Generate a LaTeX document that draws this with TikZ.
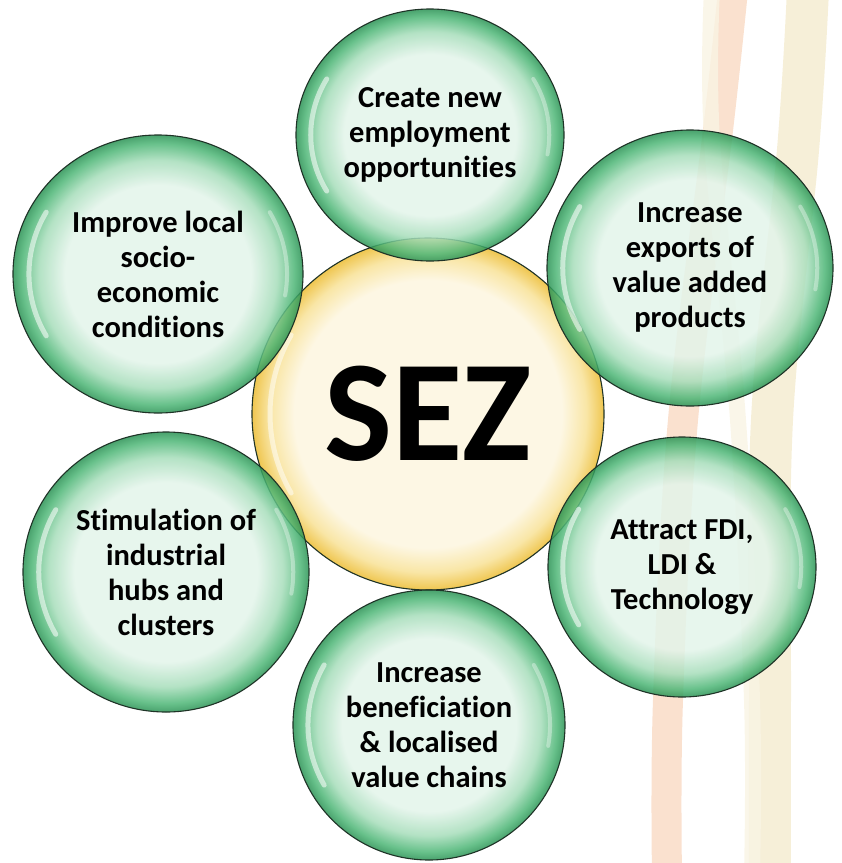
\documentclass[tikz,border=0pt]{standalone}
\usepackage{fontspec}
\setmainfont[Ligatures={NoCommon}]{Carlito}
\usetikzlibrary{shapes.geometric}
\definecolor{mint}{HTML}{E3F4EA}
\definecolor{lgreen}{HTML}{A6DDBA}
\definecolor{mgreen}{HTML}{4DB676}
\definecolor{dgreen}{HTML}{2A9254}
\definecolor{cream}{HTML}{FDF7E4}
\definecolor{lgold}{HTML}{F9E6A6}
\definecolor{gold}{HTML}{EFC650}
\definecolor{peach}{HTML}{FAE1CF}
\definecolor{beige}{HTML}{F6EFD8}
\definecolor{rim}{HTML}{1F3327}
\pgfdeclareradialshading{greenbubble}{\pgfpoint{0bp}{0bp}}{color(0bp)=(mint); color(16bp)=(mint); color(20.5bp)=(lgreen); color(23.5bp)=(mgreen); color(25bp)=(dgreen); color(50bp)=(dgreen)}
\pgfdeclareradialshading{goldbubble}{\pgfpoint{0bp}{0bp}}{color(0bp)=(cream); color(19bp)=(cream); color(22.5bp)=(lgold); color(25bp)=(gold); color(50bp)=(gold)}
\tikzset{
  bubble/.style={ellipse, inner sep=0pt, shading=greenbubble, fill opacity=0.85, text opacity=1,
    draw=rim, line width=1.1pt, align=center, font=\fontsize{30.5}{35}\selectfont\bfseries},
  hub/.style={ellipse, inner sep=0pt, shading=goldbubble, draw=rim, line width=1.1pt,
    font=\fontsize{144}{150}\selectfont\bfseries},
  band/.style={line cap=butt, line join=round},
  hl/.style={white, line width=5pt, opacity=0.55, line cap=round},
  hlb/.style={white, line width=4pt, opacity=0.35, line cap=round}
}
\newcommand{\gloss}[3]{%
  \draw[hl] (#1.center) ++(150:{#2*0.89} and {#3*0.89}) arc[start angle=150, end angle=210, x radius={#2*0.89}, y radius={#3*0.89}];
  \draw[hlb] (#1.center) ++(-30:{#2*0.89} and {#3*0.89}) arc[start angle=-30, end angle=10, x radius={#2*0.89}, y radius={#3*0.89}];
}
\begin{document}
\begin{tikzpicture}[x=1pt,y=-1pt]
\useasboundingbox (0,0) rectangle (842,863);
% background bands
\draw[band, peach, line width=30pt] plot[smooth, tension=0.6] coordinates {(733,-10) (718,130) (683,420) (668,700) (667,875)};
\draw[band, beige, line width=42pt] plot[smooth, tension=0.6] coordinates {(808,-10) (798,150) (772,420) (770,700) (770,875)};
\draw[band, beige!70, line width=16pt, opacity=0.8] plot[smooth, tension=0.6] coordinates {(712,-10) (712,140) (738,420) (752,700) (752,875)};
% centre
\node[hub, minimum width=352pt, minimum height=352pt] (sez) at (428,414) {SEZ};
\draw[hl, opacity=0.5] (sez.center) ++(150:158) arc[start angle=150, end angle=210, radius=158];
% outer bubbles
\node[bubble, minimum width=268pt, minimum height=252pt] (create) at (430,135) {Create new\\employment\\opportunities};
\node[bubble, minimum width=290pt, minimum height=278pt] (improve) at (158,274) {Improve local\\socio-\\economic\\conditions};
\node[bubble, minimum width=286pt, minimum height=276pt] (exports) at (690,268) {Increase\\exports of\\value added\\products};
\node[bubble, minimum width=268pt, minimum height=260pt] (attract) at (682,567) {Attract FDI,\\LDI \&\\Technology};
\node[bubble, minimum width=286pt, minimum height=280pt] (stim) at (166,572) {Stimulation of\\industrial\\hubs and\\clusters};
\node[bubble, minimum width=272pt, minimum height=270pt] (benef) at (429,725) {Increase\\beneficiation\\\& localised\\value chains};
\gloss{create}{134}{126}
\gloss{improve}{145}{139}
\gloss{exports}{143}{138}
\gloss{attract}{134}{130}
\gloss{stim}{143}{140}
\gloss{benef}{136}{135}
\end{tikzpicture}
\end{document}
